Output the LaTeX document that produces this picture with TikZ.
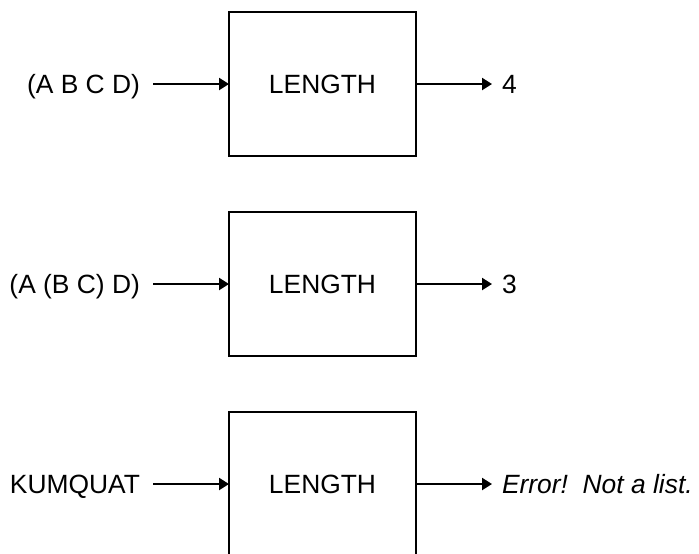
\documentclass[tikz,border=0pt]{standalone}
\usepackage{fontspec}
\setmainfont{Liberation Sans}
\usepackage{xcolor}
\usetikzlibrary{positioning,arrows.meta}

\begin{document}
\begin{tikzpicture}[
    node distance=38pt,
    box/.style={draw, line width=1.3pt, outer sep=0pt, minimum width=93.5pt, minimum height=72pt, font=\fontsize{13.2}{16}\selectfont},
    inlbl/.style={inner xsep=6.5pt, inner ysep=0pt, outer sep=0pt, text height=9.45pt, text depth=0pt, font=\fontsize{13.2}{16}\selectfont},
    outlbl/.style={inner xsep=5pt, inner ysep=0pt, outer sep=0pt, text height=9.45pt, text depth=0pt, font=\fontsize{13.2}{16}\selectfont},
    arrow/.style={-{Triangle[length=5pt, width=6pt]}, line width=1.1pt},
]
    \useasboundingbox (0,0) rectangle (349.5pt,-276.5pt);

    \node[box] (len1) at (161.25pt,-42pt) {LENGTH};
    \node[box, below=28pt of len1] (len2) {LENGTH};
    \node[box, below=28pt of len2] (len3) {LENGTH};

    \node[inlbl, left=of len1] (in1) {(A B C D)};
    \node[inlbl, left=of len2] (in2) {(A (B C) D)};
    \node[inlbl, left=of len3] (in3) {KUMQUAT};

    \node[outlbl, right=of len1] (out1) {4};
    \node[outlbl, right=of len2] (out2) {3};
    \node[outlbl, right=of len3] (out3) {\itshape Error!\ \ Not a list.};

    \draw[arrow] (in1) -- (len1);
    \draw[arrow] (in2) -- (len2);
    \draw[arrow] (in3) -- (len3);
    \draw[arrow] (len1) -- (out1);
    \draw[arrow] (len2) -- (out2);
    \draw[arrow] (len3) -- (out3);
\end{tikzpicture}
\end{document}
